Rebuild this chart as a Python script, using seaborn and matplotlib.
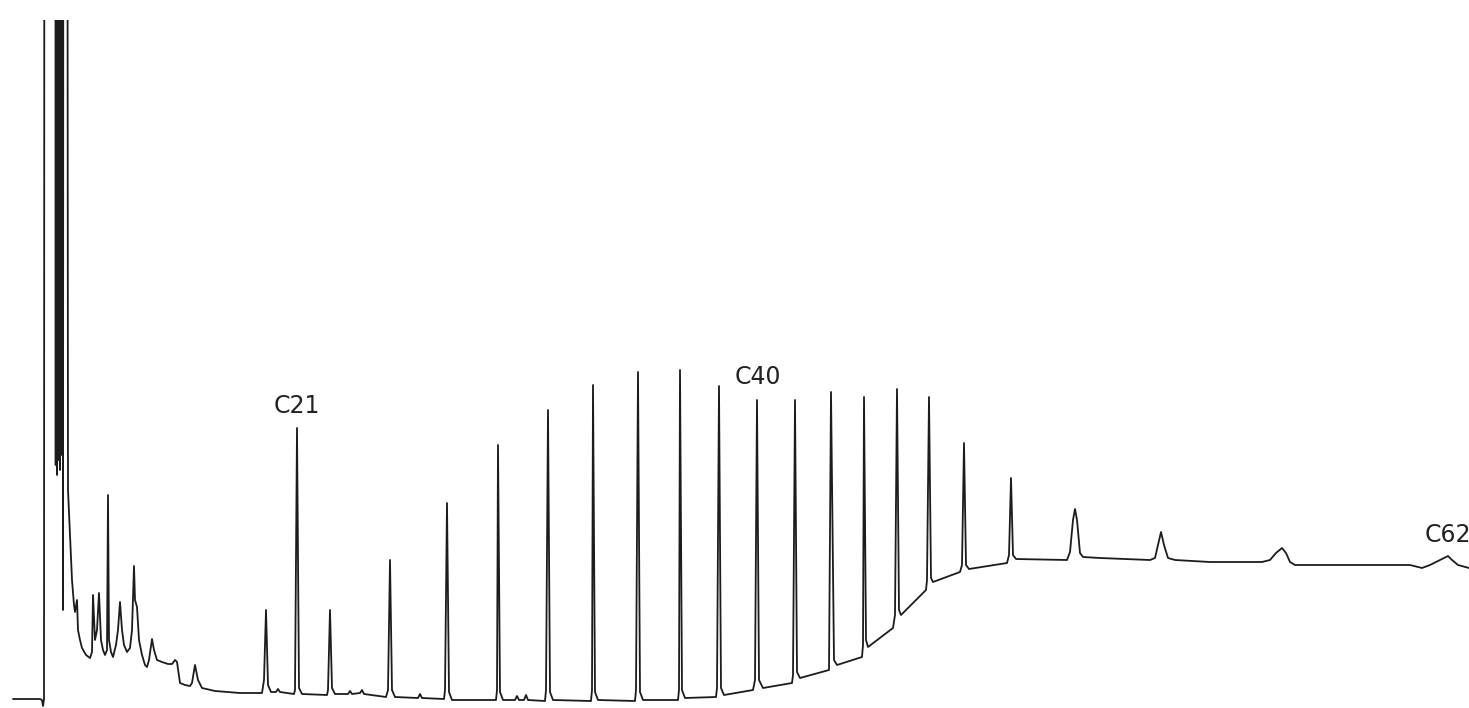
import numpy as np
import pandas as pd
import matplotlib
matplotlib.use("Agg")
import matplotlib.pyplot as plt
import seaborn as sns

# Retention position (scan index) of each vertex
scan = [13, 40, 42, 43, 44, 45, 55, 55.7, 56.4, 57.1, 57.8, 58.5, 59.2, 59.9, 60.6, 61.3, 62, 63, 64, 66,
        68, 70, 72, 74, 75, 77, 78, 80, 82,
        86, 90, 92, 93, 95, 97, 99, 101, 103, 105, 107, 108, 109, 111, 113, 116, 118, 120, 122, 124,
        127, 130, 132, 134, 135, 137, 139, 142, 145, 147, 149, 152, 154, 157, 162, 168, 172, 175, 177, 180,
        185, 190, 192, 195, 198, 202, 215, 240, 262, 264, 266, 268, 271, 276, 278, 280, 294, 295, 297, 299,
        302, 327, 328, 330, 332, 335, 348, 350, 352, 360, 362, 364, 386, 388, 390, 392, 395, 418, 420, 422,
        444, 445, 447, 449, 452, 496, 497, 498, 500, 503, 515, 517, 519, 524, 526, 528, 545, 546, 548, 550,
        553, 591, 592, 593, 595, 598, 635, 636, 638, 640, 643, 678, 679, 680, 682, 685, 716, 717, 719, 721,
        724, 753, 755, 757, 759, 763, 792, 793, 795, 797, 800, 829, 831, 834, 837, 862, 863, 864, 866, 868,
        893, 895, 897, 899, 901, 926, 927, 929, 931, 933, 960, 962, 964, 966, 969, 1007, 1009, 1011, 1013, 1016,
        1067, 1070, 1073, 1075, 1077, 1080, 1083, 1100, 1150, 1155, 1158, 1161, 1164, 1168, 1175, 1210, 1262, 1270, 1276, 1282,
        1286, 1290, 1295, 1410, 1418, 1422, 1430, 1440, 1448, 1452, 1458, 1469]

# Detector signal at each vertex (arbitrary units)
signal = [1, 1, 0, -6, 1, 2500, 2500, 235, 2500, 225, 2500, 240, 2500, 230, 2500, 245, 2500, 90, 2500, 2500,
          210, 165, 120, 95, 88, 100, 70, 60, 52,
          45, 42, 48, 105, 60, 70, 107, 60, 50, 45, 50, 205, 60, 48, 43, 55, 70, 98, 70, 55,
          48, 52, 70, 134, 100, 93, 60, 45, 35, 33, 40, 61, 50, 40, 38, 36, 36, 40, 38, 17,
          15, 14, 17, 35, 20, 12, 9, 7, 7, 20, 90, 15, 8, 8, 11, 8, 6, 10, 272, 12,
          6, 5, 10, 90, 12, 6, 6, 9, 6, 7, 10, 6, 3, 10, 140, 10, 3, 2, 6, 2,
          1, 10, 197, 8, 0, 0, 10, 255, 8, 0, 0, 4, 0, 0, 5, 0, -1, 10, 290, 8,
          0, -1, 10, 315, 8, 0, -1, 10, 328, 8, 0, 0, 10, 330, 10, 2, 3, 12, 314, 12,
          5, 10, 20, 300, 20, 12, 17, 25, 300, 28, 22, 30, 308, 40, 35, 43, 55, 303, 60, 53,
          72, 85, 311, 90, 85, 110, 120, 303, 122, 118, 128, 135, 257, 135, 131, 137, 145, 222, 145, 141,
          140, 148, 180, 191, 180, 147, 143, 142, 140, 142, 155, 168, 155, 142, 140, 138, 138, 140, 147, 152,
          147, 138, 135, 135, 133, 132, 135, 140, 144, 140, 135, 132]

# Peak annotations
peak_labels = ["C21", "C40", "C62"]
label_scan = [297, 758, 1425]
label_signal = [294, 323, 165]
label_align = ["center", "center", "left"]

df = pd.DataFrame({"scan": scan, "signal": signal})

sns.set_style("white")
plt.rcParams["font.family"] = ["DejaVu Sans"]

fig = plt.figure(figsize=(14.69, 7.08), dpi=100)
ax = fig.add_axes([0, 0, 1, 688 / 708])

sns.lineplot(data=df, x="scan", y="signal", sort=False, estimator=None,
             color="#1c1c1c", linewidth=1.3, ax=ax)

for lab, xs, ys, ha in zip(peak_labels, label_scan, label_signal, label_align):
    ax.text(xs, ys, lab, ha=ha, va="center", fontsize=17, color="#222222")

ax.set_xlim(0, 1469)
ax.set_ylim(-8, 680)
ax.set_xlabel("")
ax.set_ylabel("")
ax.set_xticks([])
ax.set_yticks([])
for s in ax.spines.values():
    s.set_visible(False)

fig.savefig("out.png", dpi=100, facecolor="white")
